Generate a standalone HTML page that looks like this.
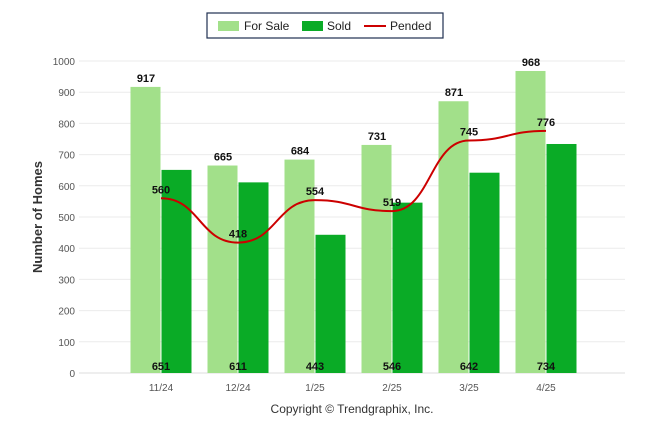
<!DOCTYPE html>
<html><head><meta charset="utf-8"><style>
body{margin:0;background:#fff;font-family:"Liberation Sans",sans-serif}
svg text{font-family:"Liberation Sans",sans-serif}
</style></head><body>
<svg id="c" width="646" height="434" xmlns="http://www.w3.org/2000/svg">
<g>
<rect x="207" y="13" width="236" height="25" fill="#fff" stroke="#1f3050" stroke-width="1.2"/>
<rect x="218" y="21" width="21" height="10" fill="#a2e08a"/>
<text x="244" y="30" font-size="12" fill="#222">For Sale</text>
<rect x="302" y="21" width="21" height="10" fill="#0aab26"/>
<text x="327" y="30" font-size="12" fill="#222">Sold</text>
<line x1="364" y1="26" x2="386" y2="26" stroke="#cc0000" stroke-width="2"/>
<text x="390" y="30" font-size="12" fill="#222">Pended</text>
</g>
<text transform="translate(42,217) rotate(-90)" text-anchor="middle" font-size="13" font-weight="bold" fill="#333">Number of Homes</text>
<text x="352" y="413" text-anchor="middle" font-size="12" fill="#333">Copyright © Trendgraphix, Inc.</text>
<g id="grid"></g><g id="bars"></g><g id="line"></g><g id="labels"></g>
</svg>
<script>
const categories=["11/24","12/24","1/25","2/25","3/25","4/25"];
const forSale=[917,665,684,731,871,968];
const sold=[651,611,443,546,642,734];
const pended=[560,418,554,519,745,776];
const yTicks=[0,100,200,300,400,500,600,700,800,900,1000];
const NS="http://www.w3.org/2000/svg";
const y=v=>373-v*0.312;
const xc=i=>161+77*i;
function mk(parent,tag,attrs,text){const e=document.createElementNS(NS,tag);for(const k in attrs)e.setAttribute(k,attrs[k]);if(text!==undefined)e.textContent=text;document.getElementById(parent).appendChild(e);return e;}
yTicks.forEach(t=>{
 const l=mk('grid','line',{x1:79,x2:625,y1:y(t),y2:y(t),stroke:t===0?'#ddd':'#ebebeb','stroke-width':1});
 
 
 const tx=mk('grid','text',{x:75,y:y(t)+4,'text-anchor':'end','font-size':10,fill:'#555'},t);
 
 
});
categories.forEach((c,i)=>{
 const t=mk('grid','text',{x:xc(i),y:391,'text-anchor':'middle','font-size':10,fill:'#555'},c);
 
 
 const b1=mk('bars','rect',{x:xc(i)-30.5,y:y(forSale[i]),width:30,height:373-y(forSale[i]),fill:'#a2e08a'});
 
 
 const b2=mk('bars','rect',{x:xc(i)+0.5,y:y(sold[i]),width:30,height:373-y(sold[i]),fill:'#0aab26'});
 
 
 const l1=mk('labels','text',{x:xc(i)-15,y:y(forSale[i])-5,'text-anchor':'middle','font-size':11,'font-weight':'bold',fill:'#111'},forSale[i]);
 
 
 const l2=mk('labels','text',{x:xc(i),y:370,'text-anchor':'middle','font-size':11,'font-weight':'bold',fill:'#111'},sold[i]);
 
 
 const l3=mk('labels','text',{x:xc(i),y:y(pended[i])-5,'text-anchor':'middle','font-size':11,'font-weight':'bold',fill:'#111'},pended[i]);
 
 
});
// monotone-ish smooth curve (cardinal with horizontal tangents)
let d='M'+xc(0)+','+y(pended[0]);
for(let i=1;i<pended.length;i++){
 const x0=xc(i-1),x1=xc(i),y0=y(pended[i-1]),y1=y(pended[i]);
 const dx=(x1-x0)/2;
 d+=' C'+(x0+dx)+','+y0+' '+(x1-dx)+','+y1+' '+x1+','+y1;
}
const p=mk('line','path',{d:d,fill:'none',stroke:'#cc0000','stroke-width':2});


</script>
</body></html>
